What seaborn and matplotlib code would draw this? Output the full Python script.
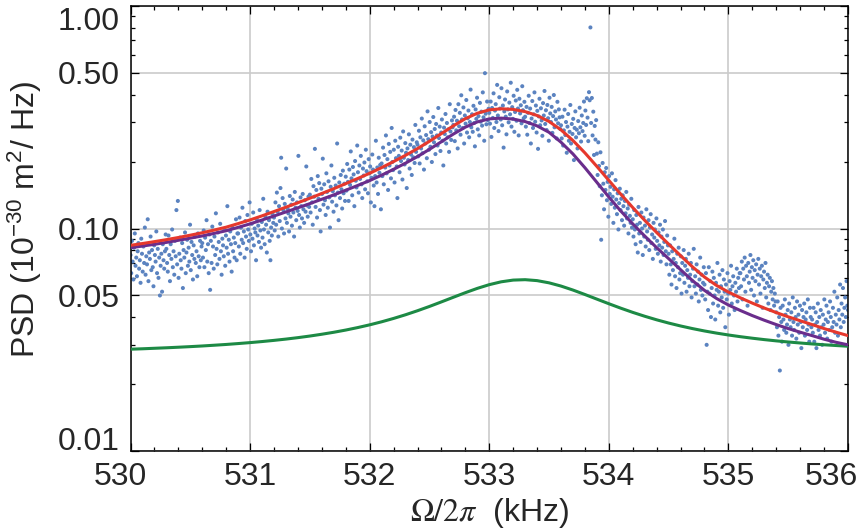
import numpy as np
import pandas as pd
import matplotlib
matplotlib.use("Agg")
import matplotlib.pyplot as plt
import matplotlib.transforms as mtransforms
from matplotlib.ticker import FixedLocator, NullFormatter
import seaborn as sns

# measured PSD, in units of 1e-3 (x 10^-30 m^2/Hz), uniformly spaced 530 -> 536 kHz
psd_milli = [
    76, 63, 88, 71, 59, 82, 95, 68, 74, 61, 79, 86, 66, 72, 57, 90, 77, 64, 83, 70, 101, 62, 75, 69, 110, 58, 78, 73, 92, 65, 80, 67, 55, 84, 76, 71, 97, 63, 81, 60, 74, 50, 68, 77, 52, 85, 72, 66, 79, 94,
    81, 70, 64, 93, 76, 58, 85, 73, 99, 67, 79, 62, 88, 75, 121, 69, 133, 60, 77, 91, 72, 66, 86, 54, 80, 74, 96, 63, 78, 89, 68, 82, 71, 104, 65, 87, 76, 59, 84, 73, 92, 70, 79, 61, 95, 75, 67, 88, 72, 83,
    86, 74, 98, 67, 91, 80, 109, 71, 85, 63, 94, 53, 88, 70, 102, 83, 66, 92, 76, 117, 81, 69, 96, 87, 73, 105, 79, 62, 90, 84, 75, 99, 68, 93, 82, 126, 77, 89, 71, 97, 85, 64, 101, 79, 91, 74, 86, 110, 72, 95,
    95, 83, 112, 77, 101, 89, 124, 86, 97, 74, 108, 92, 81, 115, 99, 88, 131, 94, 79, 105, 90, 118, 84, 100, 96, 72, 110, 93, 103, 87, 121, 98, 82, 107, 91, 136, 99, 85, 113, 104, 78, 119, 96, 109, 88, 72, 101, 93, 116, 106,
    112, 98, 131, 104, 145, 119, 92, 126, 108, 152, 208, 100, 137, 121, 95, 129, 111, 186, 106, 123, 117, 97, 140, 113, 128, 103, 135, 118, 92, 146, 124, 109, 131, 120, 212, 115, 101, 138, 126, 111, 143, 122, 106, 134, 119, 190, 127, 113, 139, 125,
    142, 118, 167, 131, 104, 155, 139, 228, 125, 149, 112, 172, 136, 160, 121, 97, 151, 143, 206, 128, 158, 134, 115, 177, 146, 124, 163, 138, 101, 154, 192, 132, 147, 119, 169, 141, 156, 127, 241, 145, 109, 161, 137, 174, 150, 123, 182, 144, 159, 133,
    171, 148, 195, 162, 133, 184, 157, 222, 168, 141, 189, 175, 126, 201, 164, 153, 236, 179, 145, 192, 167, 212, 158, 137, 186, 173, 198, 150, 226, 181, 163, 144, 205, 177, 190, 131, 169, 215, 184, 156, 126, 172, 248, 161, 188, 143, 208, 178, 193, 122,
    196, 172, 231, 158, 214, 188, 262, 177, 205, 149, 240, 192, 221, 168, 283, 199, 183, 226, 161, 248, 207, 190, 137, 233, 212, 179, 256, 201, 224, 166, 273, 208, 194, 242, 219, 152, 229, 203, 265, 186, 238, 215, 174, 251, 209, 232, 197, 292, 221, 244,
    238, 211, 275, 196, 257, 229, 312, 218, 249, 184, 288, 241, 263, 207, 336, 252, 226, 301, 233, 271, 199, 259, 317, 244, 280, 216, 295, 262, 236, 348, 255, 287, 223, 270, 309, 248, 192, 284, 266, 327, 241, 298, 257, 279, 221, 362, 273, 250, 306, 285,
    292, 318, 247, 341, 276, 305, 229, 362, 288, 331, 264, 397, 309, 283, 350, 241, 322, 296, 378, 270, 313, 339, 257, 301, 421, 285, 326, 272, 356, 298, 234, 343, 311, 387, 279, 320, 262, 367, 302, 335, 290, 409, 316, 248, 499, 328, 294, 372, 307, 345,
    331, 296, 372, 258, 348, 314, 405, 283, 339, 362, 301, 442, 322, 274, 389, 346, 309, 427, 291, 357, 231, 336, 380, 318, 265, 413, 343, 300, 368, 326, 452, 287, 351, 311, 395, 272, 334, 376, 305, 420, 346, 262, 383, 329, 358, 297, 436, 340, 313, 371,
    318, 287, 352, 264, 331, 395, 298, 346, 241, 312, 374, 283, 326, 409, 302, 357, 270, 338, 228, 319, 383, 291, 347, 306, 261, 366, 322, 415, 295, 340, 277, 359, 313, 248, 387, 329, 301, 352, 269, 320, 398, 285, 336, 309, 254, 371, 297, 343, 316, 280,
    291, 254, 318, 236, 276, 342, 263, 301, 219, 287, 327, 248, 272, 359, 241, 295, 266, 311, 203, 283, 336, 257, 278, 229, 304, 268, 349, 285, 246, 322, 274, 298, 372, 261, 339, 292, 385, 315, 247, 410, 377, 801, 298, 386, 262, 335, 214, 289, 251, 307,
    217, 174, 244, 191, 155, 220, 89, 141, 197, 159, 122, 179, 149, 187, 134, 162, 113, 172, 143, 154, 129, 177, 139, 106, 150, 124, 165, 135, 116, 144, 99, 130, 151, 121, 136, 109, 141, 126, 103, 133, 117, 146, 111, 123, 95, 128, 114, 106, 136, 101,
    110, 92, 121, 99, 85, 115, 104, 78, 125, 95, 106, 87, 118, 100, 76, 112, 92, 103, 83, 122, 97, 89, 109, 80, 101, 116, 86, 94, 73, 106, 91, 99, 81, 111, 88, 77, 96, 84, 104, 71, 92, 82, 99, 76, 87, 108, 79, 69, 93, 84,
    77, 62, 84, 69, 56, 79, 65, 73, 90, 61, 70, 54, 77, 67, 82, 59, 63, 75, 51, 70, 62, 80, 57, 68, 73, 52, 65, 60, 77, 55, 62, 70, 49, 58, 66, 81, 55, 61, 51, 69, 56, 64, 47, 59, 74, 53, 62, 50, 57, 67,
    56, 48, 63, 30, 52, 43, 67, 51, 58, 40, 54, 64, 46, 60, 50, 39, 57, 53, 70, 45, 52, 62, 42, 55, 49, 65, 44, 59, 52, 36, 56, 48, 63, 51, 41, 58, 53, 68, 46, 55, 61, 50, 43, 57, 52, 66, 47, 60, 54, 63,
    63, 55, 71, 48, 66, 59, 74, 52, 68, 61, 45, 70, 57, 64, 76, 53, 67, 60, 72, 50, 65, 58, 69, 47, 62, 73, 56, 66, 51, 61, 68, 44, 59, 64, 54, 70, 49, 57, 62, 46, 55, 60, 43, 52, 58, 48, 54, 45, 51, 47,
    42, 36, 47, 33, 40, 23, 44, 38, 31, 45, 39, 35, 48, 41, 34, 37, 43, 30, 46, 39, 36, 42, 33, 49, 38, 35, 44, 40, 32, 47, 37, 41, 34, 45, 38, 29, 43, 36, 40, 46, 33, 39, 42, 35, 48, 37, 31, 44, 40, 36,
    39, 34, 44, 31, 37, 42, 29, 38, 46, 35, 40, 33, 43, 36, 30, 41, 37, 48, 34, 39, 45, 32, 38, 42, 35, 47, 40, 31, 36, 44, 38, 52, 34, 41, 37, 49, 33, 43, 39, 56, 36, 46, 41, 54, 38, 44, 49, 40, 58, 45,
    43,
]

# fitted curves, sampled every 0.1 kHz from 530 to 536
fit_red = [
    0.0840, 0.0856, 0.0873, 0.0891, 0.0911, 0.0933, 0.0957, 0.0984, 0.1014, 0.1052,
    0.1093, 0.1140, 0.1192, 0.1247, 0.1306, 0.1368, 0.1437, 0.1510, 0.1591, 0.1678,
    0.1771, 0.1878, 0.1999, 0.2133, 0.2286, 0.2466, 0.2671, 0.2894, 0.3116, 0.3296,
    0.3413, 0.3452, 0.3430, 0.3352, 0.3220, 0.3027, 0.2775, 0.2486, 0.2187, 0.1901,
    0.1645, 0.1426, 0.1242, 0.1088, 0.0959, 0.0851, 0.0755, 0.0672, 0.0605, 0.0555,
    0.0518, 0.0488, 0.0462, 0.0439, 0.0419, 0.0401, 0.0385, 0.0370, 0.0355, 0.0342,
    0.0330,
]
fit_purple = [
    0.0819, 0.0834, 0.0849, 0.0866, 0.0885, 0.0905, 0.0926, 0.0951, 0.0977, 0.1012,
    0.1049, 0.1092, 0.1138, 0.1187, 0.1239, 0.1294, 0.1354, 0.1416, 0.1486, 0.1561,
    0.1642, 0.1737, 0.1845, 0.1967, 0.2105, 0.2269, 0.2455, 0.2657, 0.2854, 0.3013,
    0.3109, 0.3134, 0.3104, 0.3024, 0.2892, 0.2706, 0.2442, 0.2163, 0.1876, 0.1612,
    0.1385, 0.1198, 0.1049, 0.0925, 0.0820, 0.0732, 0.0653, 0.0583, 0.0527, 0.0485,
    0.0453, 0.0428, 0.0406, 0.0387, 0.0370, 0.0355, 0.0342, 0.0330, 0.0318, 0.0308,
    0.0300,
]
fit_green = [
    0.02868, 0.02880, 0.02895, 0.02910, 0.02927, 0.02945, 0.02965, 0.02988, 0.03012, 0.03040,
    0.03070, 0.03104, 0.03142, 0.03184, 0.03232, 0.03286, 0.03348, 0.03417, 0.03496, 0.03587,
    0.03690, 0.03808, 0.03943, 0.04096, 0.04270, 0.04464, 0.04679, 0.04909, 0.05147, 0.05381,
    0.05592, 0.05760, 0.05863, 0.05888, 0.05831, 0.05699, 0.05512, 0.05289, 0.05051, 0.04815,
    0.04591, 0.04384, 0.04198, 0.04033, 0.03887, 0.03759, 0.03647, 0.03549, 0.03463, 0.03388,
    0.03322, 0.03264, 0.03213, 0.03167, 0.03126, 0.03090, 0.03058, 0.03028, 0.03002, 0.02979,
    0.02957,
]

x_ticks = [530, 531, 532, 533, 534, 535, 536]
x_tick_labels = ["530", "531", "532", "533", "534", "535", "536"]
y_ticks = [0.01, 0.05, 0.10, 0.50, 1.00]
y_tick_labels = ["0.01", "0.05", "0.10", "0.50", "1.00"]
y_minor = [0.02, 0.03, 0.04, 0.06, 0.07, 0.08, 0.09,
           0.2, 0.3, 0.4, 0.6, 0.7, 0.8, 0.9]

data = pd.DataFrame({
    "freq": np.linspace(530.0, 536.0, len(psd_milli)),
    "psd": np.array(psd_milli, dtype=float) / 1000.0,
})
curve_freq = np.linspace(530.0, 536.0, len(fit_red))
curves = pd.DataFrame({"freq": curve_freq, "red": fit_red,
                       "purple": fit_purple, "green": fit_green})

sns.set_style("ticks")
plt.rcParams["font.family"] = ["Liberation Sans", "DejaVu Sans"]
plt.rcParams["mathtext.rm"] = "Liberation Sans"
plt.rcParams["mathtext.it"] = "Liberation Sans:italic"
plt.rcParams["mathtext.bf"] = "Liberation Sans:bold"
plt.rcParams["mathtext.sf"] = "Liberation Sans"

fig = plt.figure(figsize=(8.65, 5.32), dpi=100)
ax = fig.add_axes([130.5 / 865, 1 - 451 / 532, (848 - 130.5) / 865, (451 - 6) / 532])

sns.scatterplot(data=data, x="freq", y="psd", s=8.5, color="#5b83c0",
                edgecolor="none", linewidth=0, ax=ax, zorder=2)
sns.lineplot(data=curves, x="freq", y="green", color="#1d8a45", lw=2.2, ax=ax, zorder=3)
sns.lineplot(data=curves, x="freq", y="purple", color="#6a2d8c", lw=2.2, ax=ax, zorder=4)
sns.lineplot(data=curves, x="freq", y="red", color="#e6382c", lw=2.2, ax=ax, zorder=5)

ax.set_yscale("log")
ax.set_xlim(530, 536)
ax.set_ylim(0.01, 1.0)

ax.xaxis.set_major_locator(FixedLocator(x_ticks))
ax.set_xticklabels(x_tick_labels)
ax.xaxis.set_minor_locator(FixedLocator(list(np.linspace(530, 536, 31))))
ax.xaxis.set_minor_formatter(NullFormatter())
ax.yaxis.set_major_locator(FixedLocator(y_ticks))
ax.set_yticklabels(y_tick_labels)
ax.yaxis.set_minor_locator(FixedLocator(y_minor))
ax.yaxis.set_minor_formatter(NullFormatter())

ax.set_axisbelow(True)
ax.grid(True, which="major", color="#cbcbcb", lw=1.2)
ax.tick_params(which="both", direction="in", top=True, right=True,
               color="black", width=0.9, labelsize=23, pad=8)
ax.tick_params(which="major", length=5.5)
ax.tick_params(which="minor", length=3)
for sp in ax.spines.values():
    sp.set_linewidth(1.1)
    sp.set_color("black")

ax.set_xlabel(r"$\Omega/2\pi$  (kHz)", fontsize=23, math_fontfamily="stix")
ax.set_ylabel(r"PSD (10$^{-30}$ m$^{2}$/ Hz)", fontsize=23, math_fontfamily="custom")
ax.xaxis.set_label_coords(0.5, -0.1)
ax.yaxis.set_label_coords(-0.12, 0.52)

# shift the edge tick labels inward, as in the reference
def shift(label, dx_px, dy_px):
    off = mtransforms.ScaledTranslation(dx_px / 100.0, dy_px / 100.0, fig.dpi_scale_trans)
    label.set_transform(label.get_transform() + off)

xl = ax.get_xticklabels()
shift(xl[0], -10, 0)
shift(xl[-1], -17, 0)
yl = ax.get_yticklabels()
shift(yl[0], 0, 12)
shift(yl[-1], 0, -12)

fig.savefig("out.png", dpi=100)
